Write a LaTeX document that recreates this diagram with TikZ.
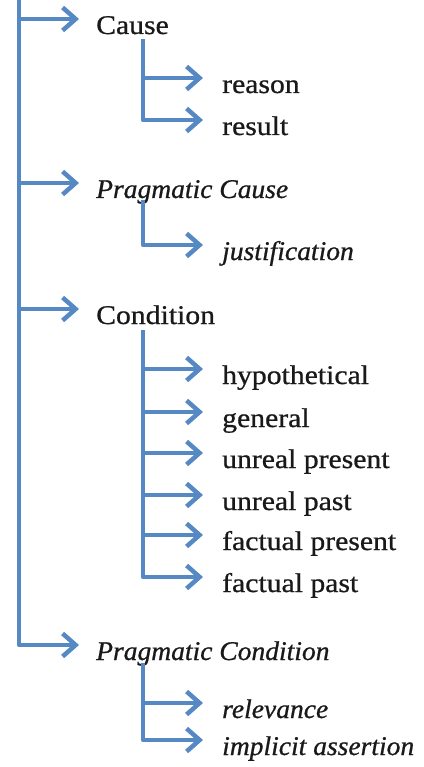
\documentclass[tikz,border=0pt]{standalone}
\usepackage{fontspec}
\newfontfamily\rmf{Liberation Serif}[FakeStretch=1.1,FakeBold=0.8]
\newfontfamily\itf{Liberation Serif}[FakeStretch=1.02,FakeBold=0.8]
\usetikzlibrary{arrows.meta}
\definecolor{lineblue}{RGB}{86,136,196}
\definecolor{txt}{RGB}{25,25,25}
\begin{document}
\begin{tikzpicture}[x=1pt,y=-1pt,
  lbl/.style={anchor=base west, inner sep=0pt, text=txt, font=\rmf\fontsize{27}{32}\selectfont},
  ilbl/.style={lbl, font=\itf\itshape\fontsize{27}{32}\selectfont},
  bar/.style={draw=lineblue, line width=4.5pt, line join=round},
  link/.style={bar, -{Straight Barb[length=13pt,width=23pt]}}]
\useasboundingbox (0,0) rectangle (423,767);
\coordinate (spine) at (19,0);
% level 1
\node[lbl]  (cause)  at (96,34)  {Cause};
\node[ilbl] (pcause) at (96,198) {Pragmatic Cause};
\node[lbl]  (cond)   at (96,324) {Condition};
\node[ilbl] (pcond)  at (96,660) {Pragmatic Condition};
% level 2
\node[lbl]  (reason) at (222,93)  {reason};
\node[lbl]  (result) at (222,135) {result};
\node[ilbl] (just)   at (222,260) {justification};
\node[lbl]  (hyp)    at (222,384) {hypothetical};
\node[lbl]  (gen)    at (222,427) {general};
\node[lbl]  (urpres) at (222,468) {unreal present};
\node[lbl]  (urpast) at (222,510) {unreal past};
\node[lbl]  (fpres)  at (222,550) {factual present};
\node[lbl]  (fpast)  at (222,592) {factual past};
\node[ilbl] (rel)    at (222,718) {relevance};
\node[ilbl] (impl)   at (222,755) {implicit assertion};
% arrow tips
\foreach \n in {cause,pcause,cond,pcond}
  \coordinate (\n-t) at ([xshift=-17pt,yshift=15pt]\n.base west);
\foreach \n in {reason,result,just,hyp,gen,urpres,urpast,fpres,fpast,rel,impl}
  \coordinate (\n-t) at ([xshift=-19pt,yshift=15pt]\n.base west);
% sub-spine tops
\coordinate (cause-s)  at ([xshift=47pt,yshift=-5pt]cause.base west);
\coordinate (pcause-s) at ([xshift=47pt,yshift=-2pt]pcause.base west);
\coordinate (cond-s)   at ([xshift=47pt,yshift=-6pt]cond.base west);
\coordinate (pcond-s)  at ([xshift=47pt,yshift=-3pt]pcond.base west);
% main spine
\draw[link] (spine) |- (pcond-t);
\foreach \n in {cause,pcause,cond} \draw[link] (spine |- \n-t) -- (\n-t);
% sub-spines
\draw[link] (cause-s) |- (result-t);
\draw[link] (cause-s |- reason-t) -- (reason-t);
\draw[link] (pcause-s) |- (just-t);
\draw[link] (cond-s) |- (fpast-t);
\foreach \n in {hyp,gen,urpres,urpast,fpres} \draw[link] (cond-s |- \n-t) -- (\n-t);
\draw[link] (pcond-s) |- (impl-t);
\draw[link] (pcond-s |- rel-t) -- (rel-t);
\end{tikzpicture}
\end{document}
